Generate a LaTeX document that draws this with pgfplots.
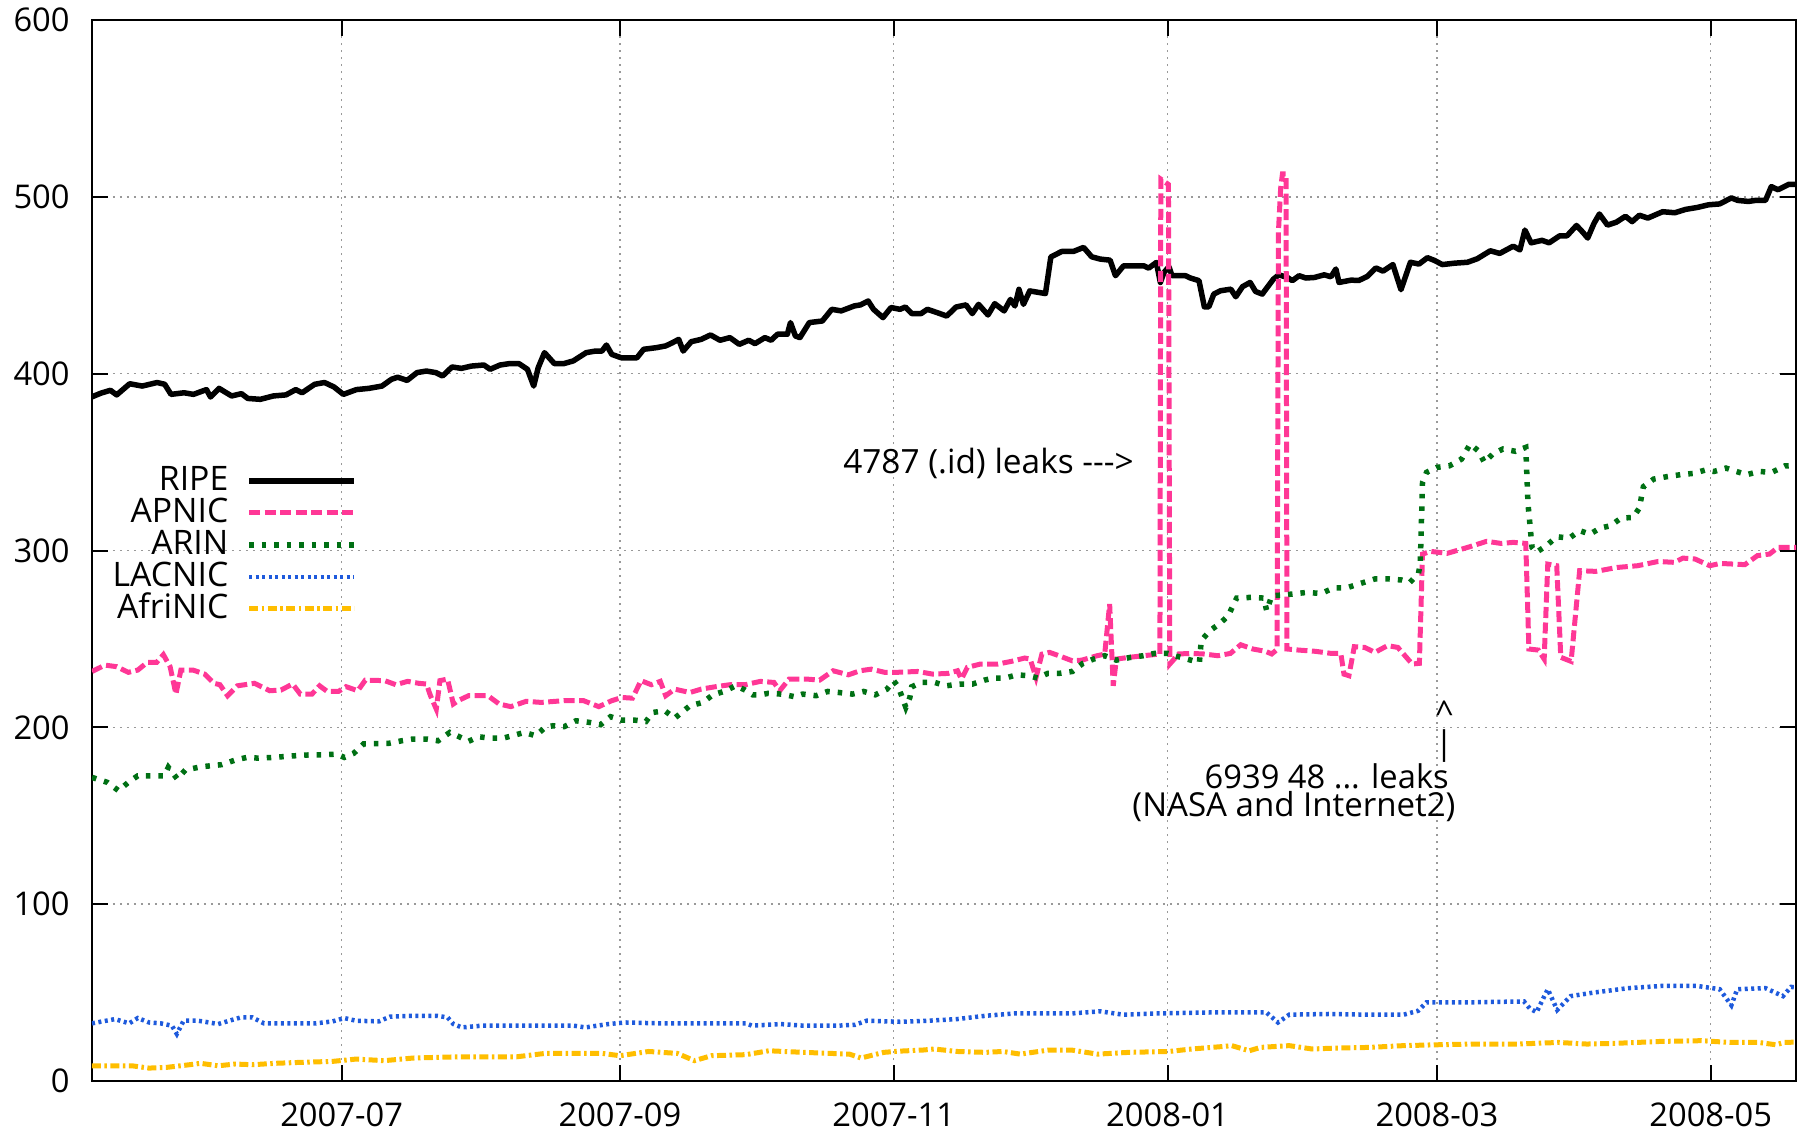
\documentclass[border=0pt]{standalone}
\usepackage{fontspec}
\setmainfont{Open Sans}
\usepackage{pgfplots}
\pgfplotsset{compat=1.18}
\definecolor{apnic}{RGB}{255,55,150}
\definecolor{arin}{RGB}{0,112,20}
\definecolor{lacnic}{RGB}{30,90,220}
\definecolor{afrinic}{RGB}{255,190,0}
\begin{document}
\begin{tikzpicture}
\useasboundingbox (-9.2mm,-5.0mm) rectangle (170.6mm,108.1mm);
\begin{axis}[
 scale only axis, width=170.4mm, height=106.1mm,
 at={(0,0)}, anchor=south west,
 xmin=-55.6, xmax=324, ymin=0, ymax=600,
 xtick={0,62,123,184,244,305},
 xticklabels={2007-07,2007-09,2007-11,2008-01,2008-03,2008-05},
 ytick={0,100,...,600},
 tick align=inside, tick pos=both,
 major tick length=1.6mm,
 grid=major,
 major grid style={gray!80, line width=0.15mm, dash pattern=on 0.2mm off 0.5mm},
 axis line style={line width=0.2mm},
 tick style={line width=0.2mm, black},
 /pgf/number format/assume math mode=true,
 tick label style={font=\fontsize{9.3}{11}\selectfont},
 yticklabel style={xshift=-1.0mm},
 xticklabel style={yshift=-0.9mm},
 legend plot pos=right,
 legend cell align=right,
 legend style={draw=none, fill=none, at={(0.162,0.588)}, anchor=north east,
   font=\fontsize{9.6}{11}\selectfont,
   nodes={inner sep=0.3mm, text height=2.3mm, text depth=0.3mm},
   row sep=0pt, column sep=1.5mm},
 legend image code/.code={\draw[#1] (0mm,0mm) -- (10.5mm,0mm);},
]
\addplot[black, line width=0.55mm, line join=round] coordinates {
(-55.7,386.8)(-53.6,389)(-51.5,390.6)(-50.1,388)(-47.2,394.3)(-44.4,393)(-41.1,395)(-39.4,394)(-38.0,388.3)(-35.1,389.2)(-33.0,388.3)(-30.1,391)(-29.2,386.8)(-27.3,391.7)(-24.5,387.4)(-22.3,388.7)(-20.9,386)(-18.1,385.5)(-15.2,387.4)(-12.4,388)(-10.2,391)(-8.8,389.2)(-6.0,394)(-3.8,395)(-1.7,392.5)(0.4,388.3)(3.3,391)(6.1,391.7)(9.0,393)(11.1,396.8)(12.5,398)(14.6,396.2)(16.8,400.6)(18.9,401.5)(21.0,400.6)(22.5,398.7)(24.6,403.8)(26.7,403)(28.9,404.3)(31.7,404.9)(33.1,402.5)(35.3,404.9)(37.4,405.7)(39.5,405.7)(41.4,402.5)(42.8,393)(43.8,403.4)(45.2,411.9)(47.4,405.7)(49.5,405.7)(51.6,407.2)(54.5,411.9)(56.6,412.8)(58.0,412.8)(59.0,416.2)(60.2,410.9)(62.3,409)(65.8,409)(67.3,413.8)(70.1,414.7)(72.2,415.7)(73.7,417.5)(75.1,419.4)(76.1,412.8)(77.9,418.1)(80.1,419.4)(82.2,421.9)(84.3,418.9)(86.5,420.4)(88.6,416.6)(90.7,418.9)(92.1,417)(94.3,420.4)(95.7,418.9)(97.1,422.3)(99.3,422.3)(100.0,428.9)(101.1,421.3)(102.1,420.4)(104.2,428.9)(107.1,429.8)(109.2,436.4)(111.3,435.5)(114.2,438.3)(115.6,438.9)(117.3,441.1)(118.5,436.4)(120.6,431.7)(122.4,437.4)(124.4,436.4)(125.6,437.7)(127.0,434)(129.1,434)(130.5,436.4)(132.7,434.5)(134.8,432.6)(136.9,437.7)(139.1,438.9)(140.5,434)(141.9,439.2)(144.0,433.2)(145.5,439.6)(147.6,435.5)(149.0,442)(150.0,438.3)(150.9,447.7)(151.9,439.2)(153.3,446.8)(156.8,445.3)(158.0,466)(160.4,469.1)(163.0,469.1)(165.3,471.4)(167.1,466.1)(169.0,464.8)(171.2,464.2)(172.4,455.4)(174.2,461)(176.4,461)(178.7,461)(179.8,459.7)(181.5,462.9)(182.4,451.6)(183.2,457.2)(184.3,460.5)(185.0,455.4)(188.0,455.4)(189.1,454.1)(191.0,452.6)(192.2,437.8)(193.2,437.8)(194.3,445)(195.8,446.9)(198.1,447.8)(199.2,443.5)(200.7,449.2)(202.4,451.6)(203.6,446.5)(205.1,445)(206.2,448.8)(207.6,453.5)(208.8,455.9)(210.7,454.4)(211.8,452.6)(213.3,455.4)(214.8,454.1)(216.7,454.4)(218.9,455.9)(220.4,454.8)(221.5,459.2)(222.2,451.6)(224.9,452.9)(226.6,452.7)(228.5,455)(230.4,459.8)(232,458)(234.2,461.7)(236.0,447.5)(238.1,463)(240,462)(241.9,465.6)(243.5,464)(245.2,461.7)(248,462.5)(250.8,463)(253,465)(255.9,469.5)(258,468)(261.0,472.1)(262.5,470)(263.6,481.2)(265,474)(267.4,475.4)(269,474)(271.3,477.9)(273,478)(275.1,483.8)(276.5,480)(277.6,476.7)(279,485)(280.2,490.3)(282,484)(284.0,485.7)(286,489)(287.5,486)(289.1,489.6)(291,488)(294.3,491.6)(297,491)(299.4,492.9)(302,494)(304.5,495.5)(307,496)(309.6,499.4)(311,498)(313.4,497.4)(315,498)(317.2,498)(318.5,505.8)(320,504)(322.4,507.1)(324,507)
};
\addlegendentry{RIPE}
\addplot[apnic, line width=0.5mm, dash pattern=on 1.1mm off 0.45mm] coordinates {
(-55.6,231.6)(-52.7,235.2)(-50.1,234.3)(-47.5,231.1)(-45.4,232.4)(-43.3,236.7)(-41.2,236.7)(-39.7,241.1)(-38.2,234.3)(-36.9,218.8)(-35.8,232.4)(-33.1,232.4)(-30.5,230.1)(-28.4,224.9)(-27.1,224.1)(-25.4,217.9)(-23.2,223.5)(-19.4,224.9)(-16.0,220.7)(-13.5,221.1)(-10.9,224.5)(-9.2,218.8)(-6.6,218.8)(-4.9,223.5)(-3.2,220.3)(-0.7,220.3)(1.0,223)(3.6,220.7)(5.3,226.7)(9.6,226.4)(12.1,224.1)(14.7,226)(17.2,224.9)(18.9,224.5)(19.8,217.9)(21.1,210.3)(21.9,226.4)(23.6,227.3)(24.9,213.2)(26.2,215.4)(28.3,217.9)(32.6,217.9)(35.1,213.2)(37.7,211.7)(41.1,214.7)(44.5,214.1)(49.6,215.1)(53.9,215.1)(57.3,211.7)(60.1,215.0)(62.4,216.9)(64.8,216.5)(66.7,226.4)(69.0,224.1)(71.0,226)(72.2,217.9)(74.2,221.6)(77.6,219.7)(80.1,221.6)(83.1,222.9)(86.5,224.1)(89.9,224.1)(93.3,226)(96.3,225.4)(97.6,220.7)(99.7,227.3)(103.6,227.3)(106.5,226.7)(109.5,232)(112.9,229.7)(115.5,232)(118.0,232.9)(121.0,231.1)(123.6,231.1)(128.3,231.6)(131.7,230.1)(135.1,230.5)(137.2,232)(138.1,227.3)(139.4,233.9)(142.3,235.8)(146.2,235.8)(149.2,237.3)(152.2,239.2)(153.4,238.6)(154.7,228.2)(156.0,241.4)(157.7,242.4)(159.8,240.5)(162.8,237.6)(164.9,238)(168.3,240.5)(170.0,241.4)(171.1,269.7)(171.9,223.5)(172.6,238.6)(175.2,239.5)(178.6,240.5)(182.0,241.4)(182.3,241)(182.5,510)(184.2,507)(184.5,235.8)(186.5,241.5)(189.2,241.8)(192.0,241.5)(195.2,240.5)(198.0,241.8)(200.3,246.7)(203.0,244.3)(205.8,243)(207.2,241.5)(208.4,244)(208.7,480)(209.2,505)(209.6,513)(210.4,513)(210.6,244.3)(213.2,243.7)(216.9,243)(220.5,241.8)(222.6,241.8)(223.3,230.1)(224.4,229.2)(225.6,245.6)(227.9,245.2)(230.2,242.4)(233.0,246.2)(235.3,245.2)(237.1,239.9)(238.5,235.8)(240.1,236.2)(240.8,298)(242.6,299.5)(246.3,298.4)(250.9,301.8)(255.1,305.2)(258.3,304)(261.0,304.6)(263.8,304)(264.5,244.3)(266.6,243.7)(267.9,238.6)(268.7,292.3)(270.7,291.4)(271.6,239.6)(273.9,237.3)(275.8,288.6)(279.4,288.2)(284.1,290.4)(288.7,291.4)(293.3,293.8)(296.9,293.3)(298.8,295.7)(301.5,295.2)(304.8,291.4)(307.1,292.7)(312.6,292)(315.4,297.1)(318.1,298)(320,301.8)(324,301.8)
};
\addlegendentry{APNIC}
\addplot[arin, line width=0.55mm, dash pattern=on 0.45mm off 0.8mm] coordinates {
(-55.6,171.7)(-52.2,168.9)(-49.7,164.2)(-47.5,168.9)(-45.4,172.6)(-42.4,172.6)(-39.5,172.6)(-38.6,177.4)(-36.6,170.8)(-34.8,175.9)(-31.3,177.7)(-26.7,178.9)(-23.7,181.5)(-21.1,183)(-18.6,182.6)(-15.2,183)(-10.0,184)(-6.6,184.5)(-3.6,184.5)(-1.1,184.9)(0.6,183)(2.7,185.3)(4.9,190.6)(10.4,190.9)(13.4,192.4)(15.9,193.4)(18.9,193.4)(21.5,192.4)(24.1,197.1)(26.2,194.7)(28.3,192.1)(30.5,194.7)(33.0,193.9)(36.0,193.9)(38.1,195.3)(40.7,197.1)(43.2,195.3)(45.4,200)(47.1,200.9)(49.6,200.4)(52.2,203.7)(55.2,202.8)(57.7,201.5)(59.9,206)(62.4,204.1)(65.2,204.1)(67.8,203.3)(69.3,208.4)(72.0,209.4)(74.2,205.2)(77.6,212.2)(80.5,214.1)(82.7,218.4)(85.2,220.3)(87.8,223.5)(89.9,221.1)(91.6,218.4)(93.3,218.4)(95.0,219.2)(98.0,218.8)(101.0,217.3)(102.7,218.8)(105.7,217.9)(108.3,220.3)(110.8,219.7)(113.8,218.8)(116.3,220.3)(118.9,218.4)(121.5,221.6)(123.0,226.3)(124.0,222.9)(124.9,216.9)(125.7,211.3)(126.6,216.9)(127.0,222.9)(129.1,225.4)(132.1,225.4)(134.7,223.5)(137.7,224.5)(140.6,224.5)(143.2,226.7)(145.3,227.9)(147.9,227.9)(150.4,229.7)(153.0,229.2)(155.1,227.9)(157.3,230.5)(159.8,230.5)(162.8,231.6)(165.1,236.1)(167.5,238.6)(170.0,240.5)(172.6,238)(175.6,239.5)(178.6,240.5)(181.1,241.8)(184.1,241.8)(186.5,239.9)(189.2,238)(191.1,236.7)(191.5,249)(193.4,254.6)(195.7,258.8)(197.5,263.1)(199.4,273.1)(202.6,273.5)(205.4,273.1)(206.1,265.9)(207.2,274.4)(210.4,275)(215.0,276.3)(218.2,275.7)(221.0,278.8)(223.8,278.8)(226.5,281)(230.2,283.9)(233.4,283.9)(236.2,283.3)(238.0,282)(239.9,287.1)(240.3,292.7)(240.8,338.5)(241.7,344.2)(244.0,347)(246.8,347.9)(249.5,351.7)(251.4,360.2)(253.2,356.4)(254.6,349.8)(256.4,354.5)(258.7,357.4)(261.5,356.1)(263.8,358.3)(264.3,326.3)(265.2,301.8)(266.1,298.9)(268.4,302.7)(270.7,307.8)(273.5,307)(275.8,311.2)(278.1,309.3)(280.4,312.7)(282.7,314)(285.0,318.3)(287.7,318.7)(289.1,324)(290.0,336.1)(292.3,340.4)(295.1,341.7)(298.3,342.9)(301.1,343.6)(303.8,345.5)(305.7,344.7)(308.4,346.6)(310.7,344.7)(313.0,342.9)(315.8,344.7)(318.6,344.2)(321.6,347.9)(324,348)
};
\addlegendentry{ARIN}
\addplot[lacnic, line width=0.45mm, dash pattern=on 0.3mm off 0.35mm] coordinates {
(-55.6,32.6)(-50.5,35)(-47.3,32.6)(-45.4,35.6)(-42.9,33.1)(-40.3,32.6)(-37.8,31.3)(-36.7,26.6)(-35.2,34.1)(-32.0,34.1)(-29.5,33.1)(-27.5,32.2)(-25.0,34.1)(-22.4,36)(-19.9,36)(-17.3,32.6)(-12.2,32.6)(-5.8,32.6)(-2.0,33.7)(0.6,35.6)(3.2,34.1)(8.3,33.7)(10.8,36.4)(16.0,36.9)(21.1,36.9)(23.6,36)(24.9,32.2)(26.8,30.3)(31.3,31.3)(39.0,31.3)(51.7,31.3)(54.3,30.3)(59.4,32.2)(63.2,33.1)(70.9,32.6)(83.7,32.6)(90.1,32.6)(91.4,31.3)(97.8,32.2)(102.9,31.3)(110.6,31.3)(114.4,31.8)(117.0,34.1)(124.4,33.5)(130.7,34.1)(137.1,35)(143.5,36.9)(149.9,38.2)(156.3,38.2)(162.6,38.2)(169.0,39.4)(174.1,37.5)(181.8,38.2)(194.5,38.8)(206.0,38.8)(208.6,33.1)(211.1,37.5)(220.0,37.9)(229.0,37.5)(236.6,37.5)(239.8,39.7)(241.7,44.5)(251.9,44.5)(263.4,45)(264.7,41)(266.2,38.9)(268.7,51.9)(270.8,40.2)(273.8,48)(278.9,50)(286.6,52.5)(294.3,53.8)(301.9,53.8)(307,51.9)(309.6,42.8)(310.9,51.9)(317.2,52.5)(321.1,48)(322.9,53.2)(324,53)
};
\addlegendentry{LACNIC}
\addplot[afrinic, line width=0.5mm, dash pattern=on 0.9mm off 0.35mm on 0.25mm off 0.35mm] coordinates {
(-55.6,8.6)(-46.7,8.6)(-42.9,7.3)(-39.0,7.7)(-33.9,9.2)(-31.4,10)(-27.5,8.6)(-23.7,9.6)(-19.9,9.2)(-14.8,10)(-9.6,10.5)(-2.0,11.1)(3.2,12.4)(9.5,11.5)(16.0,13)(26.2,13.7)(39.0,13.7)(45.3,15.6)(58.1,15.6)(62.0,14.3)(68.4,16.7)(74.8,15.6)(78.6,11.5)(82.4,14.3)(90.1,14.9)(95.2,17.1)(102.9,16.2)(113.1,15.2)(115.7,13)(120.8,16.2)(124.4,16.9)(129.5,17.5)(132.0,18.1)(137.1,16.7)(143.5,16.2)(147.3,16.7)(151.2,15.2)(157.5,17.5)(162.6,17.5)(168.4,15.2)(175.4,16.2)(184.3,16.7)(189.4,18.1)(195.8,19.4)(198.3,20)(202.2,17.1)(204.7,19)(211.1,20)(216.2,18.1)(221.3,18.6)(229.0,19)(236.6,20)(244.3,20.5)(252.0,20.9)(262.1,20.9)(271.1,21.8)(277.4,20.9)(283.8,21.3)(294.0,22.4)(302.9,22.8)(309.3,21.8)(315.7,21.8)(319.5,20.5)(321.4,21.8)(324,22)
};
\addlegendentry{AfriNIC}
\node[anchor=west, inner sep=0, font=\fontsize{9.5}{11}\selectfont] at (axis cs:111.6,349.5) {4787 (.id) leaks \mbox{-}\mbox{-}\mbox{-}>};
\node[anchor=east, inner sep=0, font=\fontsize{9.3}{11}\selectfont] at (axis cs:247.8,208) {\textasciicircum};
\node[anchor=east, inner sep=0, font=\fontsize{9.3}{11}\selectfont] at (axis cs:247.8,189.5) {|};
\node[anchor=east, inner sep=0, font=\fontsize{9.3}{11}\selectfont] at (axis cs:246.8,172.5) {6939 48 ... leaks};
\node[anchor=east, inner sep=0, font=\fontsize{9.4}{11}\selectfont] at (axis cs:248.3,155) {(NASA and Internet2)};
\end{axis}
\end{tikzpicture}
\end{document}
